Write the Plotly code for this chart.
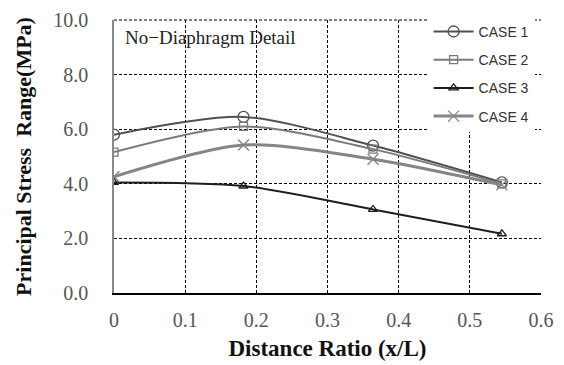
import plotly.graph_objects as go

x_ratio = [0, 0.182, 0.364, 0.545]
case1 = [5.80, 6.45, 5.40, 4.05]
case2 = [5.16, 6.10, 5.27, 4.00]
case3 = [4.05, 3.92, 3.06, 2.17]
case4 = [4.26, 5.42, 4.90, 3.96]
series_names = ["CASE 1", "CASE 2", "CASE 3", "CASE 4"]
x_ticks = [0, 0.1, 0.2, 0.3, 0.4, 0.5, 0.6]
x_tick_text = ["0", "0.1", "0.2", "0.3", "0.4", "0.5", "0.6"]
y_ticks = [0, 2, 4, 6, 8, 10]
y_tick_text = ["0.0", "2.0", "4.0", "6.0", "8.0", "10.0"]

styles = [
    dict(color="#505050", width=2, symbol="circle-open", size=11),
    dict(color="#7a7a7a", width=2, symbol="square-open", size=8),
    dict(color="#1e1e1e", width=2, symbol="triangle-up-open", size=8),
    dict(color="#858585", width=3, symbol="x-thin-open", size=11),
]

fig = go.Figure()
for name, ys, st in zip(series_names, [case1, case2, case3, case4], styles):
    fig.add_trace(go.Scatter(
        x=x_ratio, y=ys, name=name, legendgroup=name, mode="lines+markers",
        line=dict(color=st["color"], width=st["width"], shape="spline", smoothing=0.8),
        marker=dict(symbol=st["symbol"], size=st["size"], color=st["color"],
                    line=dict(color=st["color"], width=1.3)),
    ))

# dashed top border of the plot frame
fig.add_shape(
    type="line", xref="x domain", yref="y domain", x0=0, x1=1, y0=1, y1=1,
    line=dict(color="#000000", width=1, dash="3px,2px"), layer="below",
)

fig.add_annotation(
    x=0.021, y=0.935, xref="paper", yref="paper", xanchor="left", yanchor="middle",
    text="No\u2212Diaphragm Detail", showarrow=False,
    font=dict(family="Liberation Serif", size=19, color="#222222"),
)

fig.update_layout(
    width=564, height=365,
    margin=dict(l=106, r=31, t=12, b=80, autoexpand=False),
    plot_bgcolor="white", paper_bgcolor="white",
    showlegend=True,
    legend=dict(
        x=0.985, y=1.015, xanchor="right", yanchor="top",
        bgcolor="white", font=dict(family="Liberation Sans", size=14, color="#333333"),
        tracegroupgap=7, itemwidth=40,
    ),
    xaxis=dict(
        range=[0, 0.6], tickvals=x_ticks, ticktext=x_tick_text,
        showgrid=True, gridcolor="#000000", griddash="3px,2px", gridwidth=1,
        showline=True, linecolor="#000000", linewidth=1.5,
        zeroline=False, ticks="outside", ticklen=8, tickcolor="rgba(0,0,0,0)",
        ticklabeloverflow="allow", automargin=False,
        tickfont=dict(family="Liberation Serif", size=20, color="#555555"),
        title=dict(text="<b>Distance Ratio (x/L)</b>", standoff=10,
                   font=dict(family="Liberation Serif", size=23, color="#111111")),
    ),
    yaxis=dict(
        range=[0, 10], tickvals=y_ticks, ticktext=y_tick_text,
        showgrid=True, gridcolor="#000000", griddash="3px,2px", gridwidth=1,
        showline=True, linecolor="#888888", linewidth=1.5,
        zeroline=False, ticks="outside", ticklen=20, tickcolor="rgba(0,0,0,0)",
        ticklabeloverflow="allow", automargin=False,
        tickfont=dict(family="Liberation Serif", size=20, color="#555555"),
        title=dict(text="<b>Principal Stress  Range(MPa)</b>", standoff=16,
                   font=dict(family="Liberation Serif", size=22, color="#111111")),
    ),
)

fig.write_html("out.html")
